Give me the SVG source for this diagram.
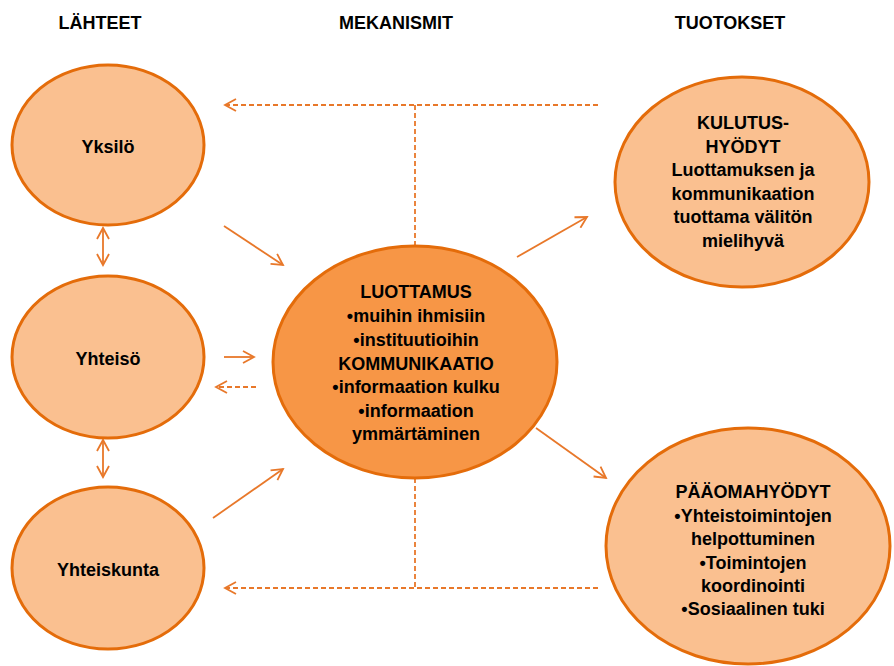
<svg xmlns="http://www.w3.org/2000/svg" width="894" height="666" viewBox="0 0 894 666">
<defs>
<style>
.hdr{font-family:"Liberation Sans",Arial,sans-serif;font-weight:bold;font-size:18px;fill:#000;text-anchor:middle}
.t{font-family:"Liberation Sans",Arial,sans-serif;font-weight:bold;font-size:18px;fill:#000;text-anchor:middle}
.light{fill:#FAC090;stroke:#E46C0A;stroke-width:3}
.main{fill:#F79646;stroke:#E46C0A;stroke-width:3}
.ln{stroke:#E8782A;stroke-width:1.8;fill:none}
.dash{stroke:#E8782A;stroke-width:1.8;fill:none;stroke-dasharray:5,3}
</style>
<marker id="ah" markerWidth="14" markerHeight="14" refX="12" refY="7" orient="auto-start-reverse" markerUnits="userSpaceOnUse">
<path d="M1,1 L12,7 L1,13" fill="none" stroke="#E8782A" stroke-width="1.8"/>
</marker>
</defs>
<rect width="894" height="666" fill="#fff"/>
<g id="headers">
<text class="hdr" x="100" y="29">LÄHTEET</text>
<text class="hdr" x="396" y="29">MEKANISMIT</text>
<text class="hdr" x="730" y="29">TUOTOKSET</text>
</g>
<g id="connectors">
<line class="ln" x1="103" y1="228" x2="103" y2="265" marker-start="url(#ah)" marker-end="url(#ah)"/>
<line class="ln" x1="103" y1="440" x2="103" y2="477" marker-start="url(#ah)" marker-end="url(#ah)"/>
<line class="ln" x1="224" y1="226" x2="283" y2="265" marker-end="url(#ah)"/>
<line class="ln" x1="224" y1="357" x2="254" y2="357" marker-end="url(#ah)"/>
<line class="dash" x1="256" y1="387" x2="216" y2="387" marker-end="url(#ah)"/>
<line class="ln" x1="213" y1="518" x2="283" y2="469" marker-end="url(#ah)"/>
<line class="ln" x1="517" y1="257" x2="587" y2="217" marker-end="url(#ah)"/>
<line class="ln" x1="536" y1="428" x2="606" y2="478" marker-end="url(#ah)"/>
<line class="dash" x1="598" y1="105" x2="225" y2="105" marker-end="url(#ah)"/>
<line class="dash" x1="415" y1="105" x2="415" y2="246"/>
<line class="dash" x1="598" y1="588" x2="225" y2="588" marker-end="url(#ah)"/>
<line class="dash" x1="415" y1="478" x2="415" y2="588"/>
</g>
<g id="yksilo">
<ellipse class="light" cx="108" cy="145" rx="96" ry="80"/>
<text class="t" x="108" y="153">Yksilö</text>
</g>
<g id="yhteiso">
<ellipse class="light" cx="108" cy="357" rx="96" ry="81"/>
<text class="t" x="108" y="365">Yhteisö</text>
</g>
<g id="yhteiskunta">
<ellipse class="light" cx="108" cy="568" rx="96" ry="81"/>
<text class="t" x="108" y="576">Yhteiskunta</text>
</g>
<g id="mekanismit">
<ellipse class="main" cx="415" cy="362" rx="142" ry="116"/>
<text class="t" x="416" y="298">LUOTTAMUS</text>
<text class="t" x="416" y="322">•muihin ihmisiin</text>
<text class="t" x="416" y="346">•instituutioihin</text>
<text class="t" x="416" y="370">KOMMUNIKAATIO</text>
<text class="t" x="416" y="393">•informaation kulku</text>
<text class="t" x="416" y="417">•informaation</text>
<text class="t" x="416" y="440">ymmärtäminen</text>
</g>
<g id="kulutushyodyt">
<ellipse class="light" cx="742" cy="182" rx="127" ry="105"/>
<text class="t" x="743" y="129">KULUTUS-</text>
<text class="t" x="743" y="153">HYÖDYT</text>
<text class="t" x="743" y="176">Luottamuksen ja</text>
<text class="t" x="743" y="200">kommunikaation</text>
<text class="t" x="743" y="223">tuottama välitön</text>
<text class="t" x="743" y="247">mielihyvä</text>
</g>
<g id="paaomahyodyt">
<ellipse class="light" cx="748" cy="546" rx="142" ry="118"/>
<text class="t" x="753" y="498">PÄÄOMAHYÖDYT</text>
<text class="t" x="753" y="522">•Yhteistoimintojen</text>
<text class="t" x="753" y="545">helpottuminen</text>
<text class="t" x="753" y="569">•Toimintojen</text>
<text class="t" x="753" y="592">koordinointi</text>
<text class="t" x="753" y="615">•Sosiaalinen tuki</text>
</g>
</svg>
